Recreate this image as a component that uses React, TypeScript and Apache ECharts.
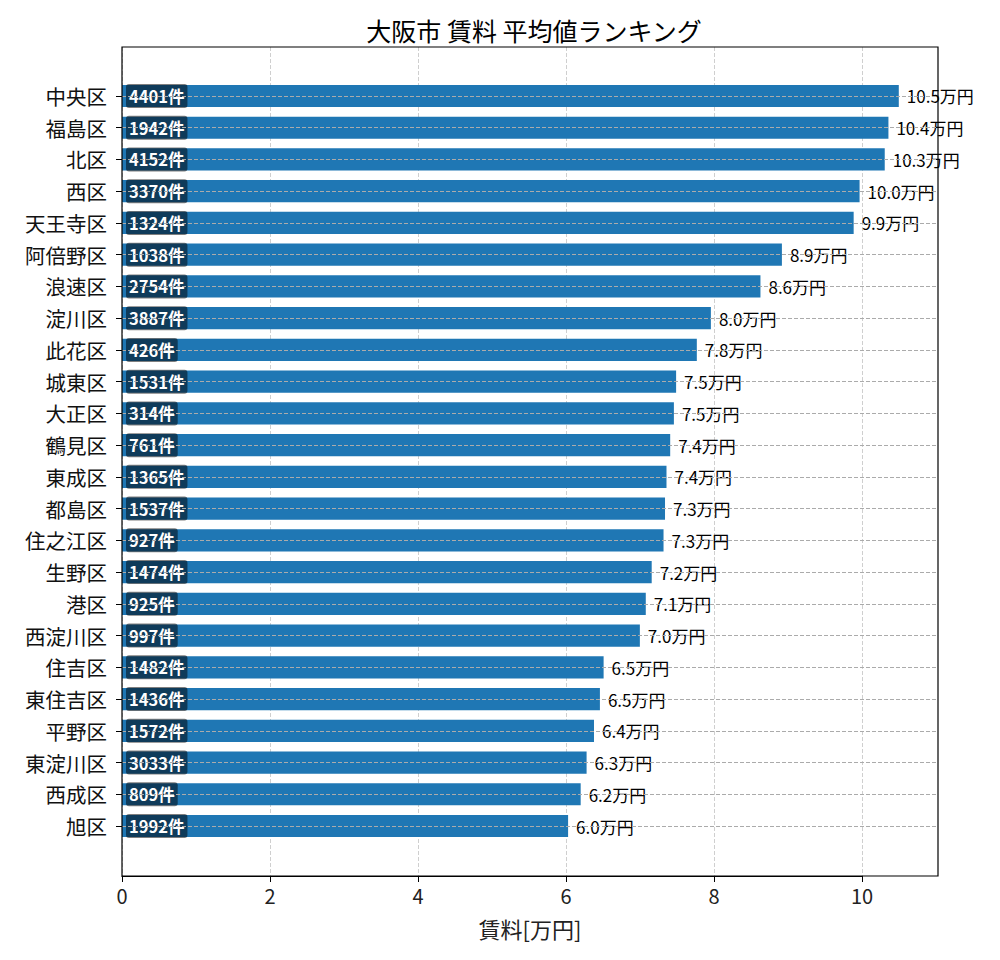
import { useEffect, useRef } from 'react'
import * as echarts from 'echarts'

const wards = [
  '中央区', '福島区', '北区', '西区', '天王寺区', '阿倍野区', '浪速区', '淀川区',
  '此花区', '城東区', '大正区', '鶴見区', '東成区', '都島区', '住之江区', '生野区',
  '港区', '西淀川区', '住吉区', '東住吉区', '平野区', '東淀川区', '西成区', '旭区',
]
const rents = [
  10.5, 10.36, 10.31, 9.97, 9.89, 8.92, 8.63, 7.96, 7.77, 7.49, 7.46, 7.41,
  7.36, 7.34, 7.32, 7.16, 7.08, 7.0, 6.51, 6.46, 6.38, 6.28, 6.2, 6.03,
]
const counts = [
  4401, 1942, 4152, 3370, 1324, 1038, 2754, 3887, 426, 1531, 314, 761,
  1365, 1537, 927, 1474, 925, 997, 1482, 1436, 1572, 3033, 809, 1992,
]

const FONT = '"Noto Sans CJK JP", "Noto Sans", sans-serif'

export default function App() {
  const chartRef = useRef<HTMLDivElement>(null)

  useEffect(() => {
    if (!chartRef.current) return
    const chart = echarts.init(chartRef.current, undefined, { renderer: 'svg' })

    // 0 → x=122, 10 → x=862, 右端の枠は x=938（≈11.03）
    const option: echarts.EChartsOption = {
      animation: false,
      backgroundColor: '#fff',
      textStyle: { fontFamily: FONT },
      title: {
        text: '大阪市 賃料 平均値ランキング',
        left: 529,
        top: 12,
        textAlign: 'center',
        textStyle: { fontFamily: FONT, fontSize: 25, fontWeight: 'normal', color: '#000' },
      },
      grid: [
        // 目盛り用（0〜10）
        { left: 122, right: 138, top: 47, bottom: 84 },
        // バー領域（上下に余白あり）
        { left: 122, right: 62, top: 80.13, bottom: 118.13 },
      ],
      xAxis: [
        {
          type: 'value',
          gridIndex: 0,
          min: 0,
          max: 10,
          interval: 2,
          axisLine: { show: true, lineStyle: { color: '#000', width: 1 } },
          axisTick: { show: true, length: 6, lineStyle: { color: '#000' } },
          axisLabel: { fontFamily: FONT, fontSize: 20, color: '#222', margin: 9 },
          splitLine: { show: true, lineStyle: { color: '#cfcfcf', type: 'dashed', width: 1 } },
        },
        {
          type: 'value',
          gridIndex: 1,
          min: 0,
          max: 11.03,
          axisLine: { show: false },
          axisTick: { show: false },
          axisLabel: { show: false },
          splitLine: { show: false },
          name: '賃料[万円]',
          nameLocation: 'middle',
          nameGap: 75,
          nameTextStyle: { fontFamily: FONT, fontSize: 22, color: '#222' },
        },
      ],
      yAxis: [
        {
          type: 'value',
          gridIndex: 0,
          show: false,
        },
        {
          type: 'category',
          gridIndex: 1,
          data: wards,
          inverse: true,
          axisLine: { show: false },
          axisTick: { show: true, length: 6, alignWithLabel: true, lineStyle: { color: '#000' } },
          axisLabel: { fontFamily: FONT, fontSize: 20.5, color: '#111', margin: 15 },
          splitLine: { show: false },
        },
      ],
      graphic: [
        {
          type: 'rect',
          z: 100,
          silent: true,
          shape: { x: 122, y: 47, width: 816, height: 829 },
          style: { fill: 'none', stroke: '#000', lineWidth: 1.2 },
        },
      ],
      series: [
        {
          type: 'bar',
          xAxisIndex: 1,
          yAxisIndex: 1,
          data: rents,
          barWidth: '70%',
          itemStyle: { color: '#1f77b4' },
          label: {
            show: true,
            position: 'insideLeft',
            distance: 4,
            formatter: (p: any) => `${counts[p.dataIndex]}件`,
            fontFamily: FONT,
            fontSize: 16.5,
            fontWeight: 'bold',
            color: '#fff',
            lineHeight: 18,
            backgroundColor: 'rgba(0,0,0,0.5)',
            borderRadius: 3,
            padding: [3, 3, 3, 3],
          },
        },
        {
          type: 'bar',
          xAxisIndex: 1,
          yAxisIndex: 1,
          data: rents,
          barWidth: '70%',
          barGap: '-100%',
          itemStyle: { color: 'rgba(0,0,0,0)' },
          label: {
            show: true,
            position: 'right',
            distance: 8,
            formatter: (p: any) => `${(p.value as number).toFixed(1)}万円`,
            fontFamily: FONT,
            fontSize: 17,
            color: '#000',
          },
          markLine: {
            silent: true,
            symbol: 'none',
            label: { show: false },
            lineStyle: { color: '#ababab', type: 'dashed', width: 1 },
            data: wards.map((w) => ({ yAxis: w })),
          },
        },
      ],
    }

    chart.setOption(option)
    return () => {
      chart.dispose()
    }
  }, [])

  return (
    <div
      ref={chartRef}
      style={{ position: 'fixed', left: 0, top: 0, width: 1000, height: 960 }}
    />
  )
}
